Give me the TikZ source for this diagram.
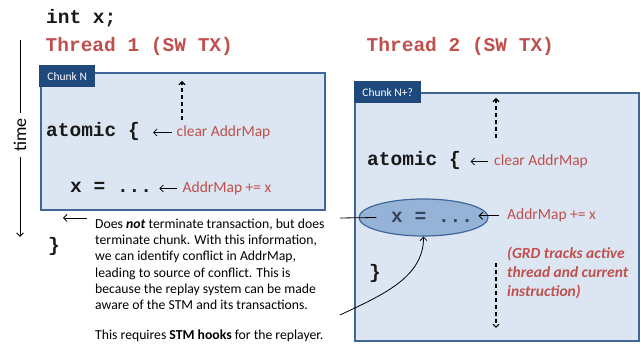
\documentclass[tikz,border=0pt]{standalone}
\usepackage{fontspec}
\setmainfont{Carlito}
\newfontfamily\monof{Liberation Mono}
\usetikzlibrary{arrows.meta,shapes.geometric}
\definecolor{redtxt}{HTML}{C0504D}
\definecolor{boxfill}{HTML}{DCE6F2}
\definecolor{boxline}{HTML}{41679A}
\definecolor{tabfill}{HTML}{1F497D}
\definecolor{ellfill}{HTML}{95B3D7}
\definecolor{elltxt}{HTML}{34445A}
\begin{document}
\begin{tikzpicture}[x=1pt,y=-1pt,
  txt/.style={inner sep=0pt, anchor=base west},
  mono/.style={txt, font=\monof\bfseries\fontsize{19.5}{22}\selectfont, text=black!90},
  title/.style={mono, text=redtxt},
  lbl/.style={txt, font=\fontsize{15.5}{18}\selectfont, text=redtxt},
  chunk/.style={draw=boxline, line width=1.8pt, fill=boxfill, anchor=north west, inner sep=0pt},
  tab/.style={fill=tabfill, text=white, anchor=north west, inner sep=0pt, font=\fontsize{11.5}{13}\selectfont},
  tarr/.style={line width=0.8pt, -{Straight Barb[length=3.5pt,width=7pt]}},
  darr/.style={line width=1.1pt, dash pattern=on 4pt off 3pt, -{Straight Barb[length=3pt,width=6pt]}},
]
\useasboundingbox (0,0) rectangle (641,344);

% header
\node[mono] (intx) at (46,24) {int x;};
\node[title] (t1) at (45.5,52) {Thread 1 (SW TX)};
\node[title] (t2) at (366.5,52) {Thread 2 (SW TX)};

% time axis
\node[inner sep=0pt, rotate=90, font=\fontsize{18}{20}\selectfont] (time) at (20,135) {time};
\coordinate (ttop) at (20,40);
\coordinate (tbot) at (20,237);
\draw[line width=0.9pt] (ttop) -- ([yshift=5pt]time.east);
\draw[tarr, line width=0.9pt] ([yshift=-5pt]time.west) -- (tbot);

% chunk N
\node[chunk, minimum width=284pt, minimum height=137pt] (box1) at (40,72) {};
\node[tab, minimum width=56pt, minimum height=22pt] (tab1) at (39,65) {Chunk N};

\coordinate (d1a) at (182,120);
\coordinate (d1b) at (182,81);
\draw[darr] (d1a) -- (d1b);

\node[mono] (atom1) at (46,137) {atomic \{};
\node[lbl] (clr1) at (176.5,137) {clear AddrMap};
\draw[tarr, shorten <=5pt, shorten >=13pt] ([yshift=4.5pt]clr1.base west) -- ([yshift=4.5pt]atom1.base east);

\node[mono] (x1) at (70,193) {x = ...};
\node[lbl] (add1) at (182.5,193) {AddrMap += x};
\draw[tarr, shorten <=6pt, shorten >=7pt] ([yshift=4.5pt]add1.base west) -- ([yshift=4.5pt]x1.base east);

\node[mono] (brace1) at (48,252) {\}};

% paragraph
\coordinate (pa) at (87,218);
\coordinate (pb) at (63,218);
\draw[tarr] (pa) -- (pb);
\node[inner sep=0pt, anchor=north west, align=left, font=\fontsize{13.7}{16.3}\selectfont] (para) at (95,218.5)
{Does \textbf{\textit{not}} terminate transaction, but does\\
terminate chunk. With this information,\\
we can identify conflict in AddrMap,\\
leading to source of conflict. This is\\
because the replay system can be made\\
aware of the STM and its transactions.\\[13pt]
This requires \textbf{STM hooks} for the replayer.};

% chunk N+?
\node[chunk, minimum width=284pt, minimum height=248pt] (box2) at (354,92) {};
\node[tab, minimum width=67pt, minimum height=22pt] (tab2) at (354,81) {Chunk N+?};

\coordinate (d2a) at (496,138);
\coordinate (d2b) at (496,98);
\draw[darr] (d2a) -- (d2b);

\node[mono] (atom2) at (367,166) {atomic \{};
\node[lbl] (clr2) at (494,166) {clear AddrMap};
\draw[tarr, shorten <=6.5pt, shorten >=9.5pt] ([yshift=4.5pt]clr2.base west) -- ([yshift=4.5pt]atom2.base east);

\node[ellipse, draw=boxline, line width=1.2pt, fill=ellfill, minimum width=129pt, minimum height=37pt, inner sep=0pt] (ell) at (423.5,217.5) {};
\node[mono, text=elltxt] (x2) at (391,222.5) {x = ...};
\node[lbl] (add2) at (507,220) {AddrMap += x};
\draw[tarr, shorten <=8pt] (add2.west) -- ([xshift=-10pt]add2.west -| ell.east);

\coordinate (pc) at (340,218);
\draw[line width=0.8pt] (pc) -- ([xshift=18pt]ell.west);

\coordinate (cs) at (340,315);
\draw[tarr] (cs) .. controls (380,296) and (424,278) .. (ell.south);

\node[mono] (brace2) at (369,279) {\}};

\node[inner sep=0pt, anchor=north west, align=left, text=redtxt, font=\bfseries\itshape\fontsize{15.5}{18.8}\selectfont] (grd) at (507,247)
{(GRD tracks active\\ thread and current\\ instruction)};

\coordinate (d3a) at (496,263);
\coordinate (d3b) at (496,328);
\draw[darr] (d3a) -- (d3b);

\end{tikzpicture}
\end{document}
